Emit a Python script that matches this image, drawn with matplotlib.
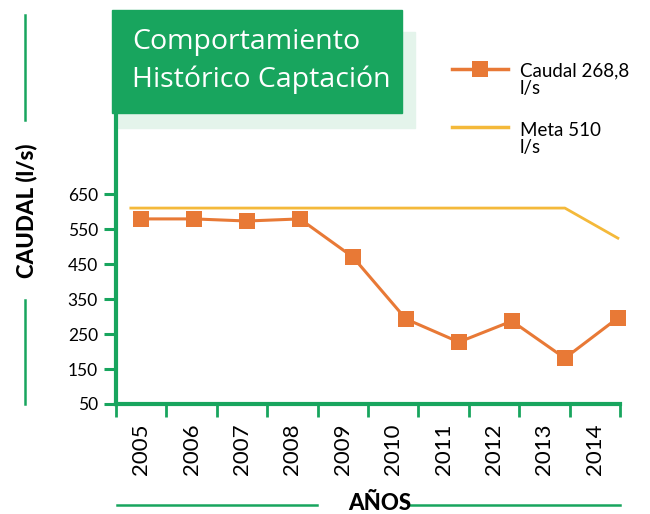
import matplotlib.pyplot as plt
from matplotlib.patches import Rectangle
from matplotlib.lines import Line2D

YEARS = ["2005", "2006", "2007", "2008", "2009", "2010", "2011", "2012", "2013", "2014"]
CAUDAL = [579, 579, 573, 579, 470, 293, 227, 287, 181, 296]
META = [610, 610, 610, 610, 610, 610, 610, 610, 610, 524]
Y_TICKS = [50, 150, 250, 350, 450, 550, 650]

GREEN = "#18a55e"
PALE = "#e4f4eb"
ORANGE = "#e87936"
YELLOW = "#f4b93a"

W, H = 650, 514


def fx(px):
    return px / W


def fy(py):
    return 1 - py / H


def main():
    plt.rcParams["font.family"] = ["Lato", "DejaVu Sans"]
    fig = plt.figure(figsize=(6.5, 5.14), dpi=100)

    # axes box in pixels: left 116, right 620, top 115, bottom 404
    rect = [fx(116), fy(404), fx(620) - fx(116), fy(115) - fy(404)]

    # decorative shadow + title box
    fig.add_artist(Rectangle((fx(118), fy(128)), fx(415) - fx(118), fy(32) - fy(128),
                             transform=fig.transFigure, color=PALE, zorder=0))

    ax = fig.add_axes(rect)
    ax.set_facecolor("none")
    ax.set_xlim(-0.5, len(YEARS) - 0.5)
    ax.set_ylim(50, 876)
    for s in ("top", "right"):
        ax.spines[s].set_visible(False)
    for s in ("left", "bottom"):
        ax.spines[s].set_color(GREEN)
        ax.spines[s].set_linewidth(3)
    ax.set_xticks([i - 0.5 for i in range(len(YEARS) + 1)])
    ax.set_xticklabels([])
    ax.set_xticks(range(len(YEARS)), minor=True)
    ax.set_xticklabels(YEARS, minor=True, rotation=90, fontsize=16)
    ax.tick_params(axis="x", which="major", length=9, width=2, color=GREEN)
    ax.tick_params(axis="x", which="minor", length=0, pad=14)
    ax.set_yticks(Y_TICKS)
    ax.set_yticklabels([str(v) for v in Y_TICKS], fontsize=12.5)
    ax.tick_params(axis="y", length=9, width=2.2, color=GREEN, pad=4)

    # data axes (points spaced slightly wider than category bands)
    ax2 = fig.add_axes(rect)
    ax2.set_xlim(-0.47, 9.04)
    ax2.set_ylim(50, 876)
    ax2.axis("off")
    x = list(range(len(YEARS)))
    ax2.plot([-0.19] + x[1:], META, color=YELLOW, lw=2, clip_on=False)
    ax2.plot(x, CAUDAL, color=ORANGE, lw=2.2, marker="s", markersize=12,
             markeredgewidth=0, clip_on=False)

    fig.add_artist(Rectangle((fx(112), fy(113)), fx(402) - fx(112), fy(10) - fy(113),
                             transform=fig.transFigure, color=GREEN, zorder=5))
    fig.text(fx(132), fy(42), "Comportamiento", color="white", fontsize=20.5,
             family=["Open Sans", "DejaVu Sans"], va="center", zorder=6)
    fig.text(fx(132), fy(80), "Histórico Captación", color="white", fontsize=20.5,
             family=["Open Sans", "DejaVu Sans"], va="center", zorder=6)

    # legend
    fig.add_artist(Line2D([fx(452), fx(508)], [fy(69), fy(69)], transform=fig.transFigure,
                          color=ORANGE, lw=2.5))
    fig.add_artist(Line2D([fx(480)], [fy(69)], transform=fig.transFigure,
                          color=ORANGE, marker="s", markersize=12, markeredgewidth=0))
    fig.text(fx(520), fy(80), "Caudal 268,8\nl/s", fontsize=13.5, va="center",
             linespacing=1.05)
    fig.add_artist(Line2D([fx(452), fx(508)], [fy(127), fy(127)], transform=fig.transFigure,
                          color=YELLOW, lw=2.5))
    fig.text(fx(520), fy(139), "Meta 510\nl/s", fontsize=13.5, va="center",
             linespacing=1.05)

    # axis titles with decorative rules
    fig.text(fx(26), fy(211), "CAUDAL (l/s)", rotation=90, fontsize=16, weight="black",
             ha="center", va="center")
    fig.add_artist(Line2D([fx(25), fx(25)], [fy(15), fy(120)], transform=fig.transFigure,
                          color=GREEN, lw=1.8))
    fig.add_artist(Line2D([fx(25), fx(25)], [fy(300), fy(404)], transform=fig.transFigure,
                          color=GREEN, lw=1.8))
    fig.text(fx(380), fy(503), "AÑOS", fontsize=16, weight="black", ha="center", va="center")
    fig.add_artist(Line2D([fx(117), fx(317)], [fy(505), fy(505)], transform=fig.transFigure,
                          color=GREEN, lw=1.8))
    fig.add_artist(Line2D([fx(409), fx(620)], [fy(505), fy(505)], transform=fig.transFigure,
                          color=GREEN, lw=1.8))

    fig.savefig("out.png", dpi=100)


if __name__ == "__main__":
    main()
